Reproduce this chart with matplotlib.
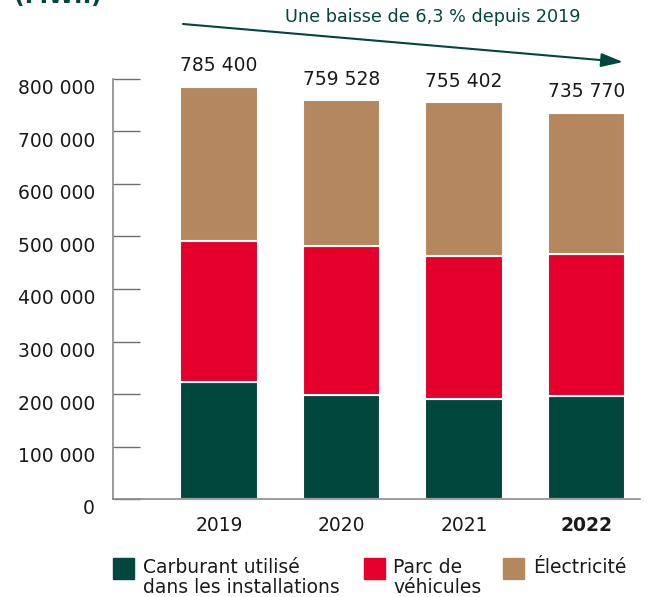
import matplotlib
matplotlib.use("Agg")
from matplotlib import pyplot as plt
from matplotlib.patches import Rectangle
from matplotlib.transforms import ScaledTranslation

# data (MWh)
years = ["2019", "2020", "2021", "2022"]
totals = [785400, 759528, 755402, 735770]
total_labels = ["785 400", "759 528", "755 402", "735 770"]
carburant = [222000, 199000, 190000, 197000]
vehicules = [270000, 282000, 273000, 269000]
electricite = [t - c - v for t, c, v in zip(totals, carburant, vehicules)]

series_names = ["Carburant utilisé\ndans les installations", "Parc de\nvéhicules", "Électricité"]
colors = ["#02473e", "#e4002b", "#b5875f"]

y_ticks = [0, 100000, 200000, 300000, 400000, 500000, 600000, 700000, 800000]
y_tick_labels = ["0", "100 000", "200 000", "300 000", "400 000", "500 000",
                 "600 000", "700 000", "800 000"]

unit_label = "(MWh)"
trend_label = "Une baisse de 6,3 % depuis 2019"

green = "#02473e"
text_color = "#1a1a1a"
W, H = 653, 597

fig = plt.figure(figsize=(W / 100, H / 100), dpi=100)
ax = fig.add_axes([113 / W, 98 / H, 527 / W, 420 / H])

x = list(range(len(years)))
bar_w = 0.63
bottoms = [0] * len(years)
for vals, col in zip([carburant, vehicules, electricite], colors):
    ax.bar(x, vals, bar_w, bottom=bottoms, color=col, edgecolor="white", linewidth=1.5)
    bottoms = [b + v for b, v in zip(bottoms, vals)]

# totals above the bars
for xi, tot, lab in zip(x, totals, total_labels):
    ax.annotate(lab, (xi, tot), xytext=(0, 15), textcoords="offset points",
                ha="center", va="center", fontsize=13.5, color=text_color,
                annotation_clip=False)

ax.set_xlim(-0.865, 3.437)
ax.set_ylim(0, 800000)

ax.set_yticks(y_ticks)
ax.set_yticklabels(y_tick_labels)
ax.tick_params(axis="y", direction="in", length=19.5, width=1, color="#6e6e6e",
               pad=13, labelsize=13.5, labelcolor=text_color)
offset = ScaledTranslation(0, -8 / 100, fig.dpi_scale_trans)
for lbl in ax.get_yticklabels():
    lbl.set_transform(lbl.get_transform() + offset)

ax.set_xticks(x)
ax.set_xticklabels(years)
ax.tick_params(axis="x", length=0, pad=12, labelsize=13.5, labelcolor=text_color)
ax.get_xticklabels()[-1].set_fontweight("bold")

for side in ["top", "right"]:
    ax.spines[side].set_visible(False)
for side in ["left", "bottom"]:
    ax.spines[side].set_color("#8a8a8a")
    ax.spines[side].set_linewidth(1.2)

# unit title, cut off at the top edge like the reference
fig.text(14 / W, 1 - 3 / H, unit_label, fontsize=17, fontweight="bold", color=green,
         ha="left", va="baseline")

# trend arrow
ax.annotate("", xy=(623, H - 62), xycoords="figure pixels",
            xytext=(183, H - 24), textcoords="figure pixels",
            arrowprops=dict(arrowstyle="-|>,head_length=0.95,head_width=0.3",
                            mutation_scale=14, lw=1.5, color=green,
                            shrinkA=0, shrinkB=0))
fig.text(433 / W, 1 - 17 / H, trend_label, fontsize=12.7, color=green,
         ha="center", va="center")

# legend drawn by hand so the box sits next to the first line of text
legend_pos = [(113, 143), (364, 393), (503, 533)]
for (bx, tx), name, col in zip(legend_pos, series_names, colors):
    fig.patches.append(Rectangle((bx / W, (H - 579) / H), 21 / W, 21 / H,
                                 transform=fig.transFigure, color=col))
    fig.text(tx / W, 1 - 558 / H, name, fontsize=13.5, color=text_color,
             ha="left", va="top", linespacing=1.05)

fig.savefig("out.png", dpi=100)
